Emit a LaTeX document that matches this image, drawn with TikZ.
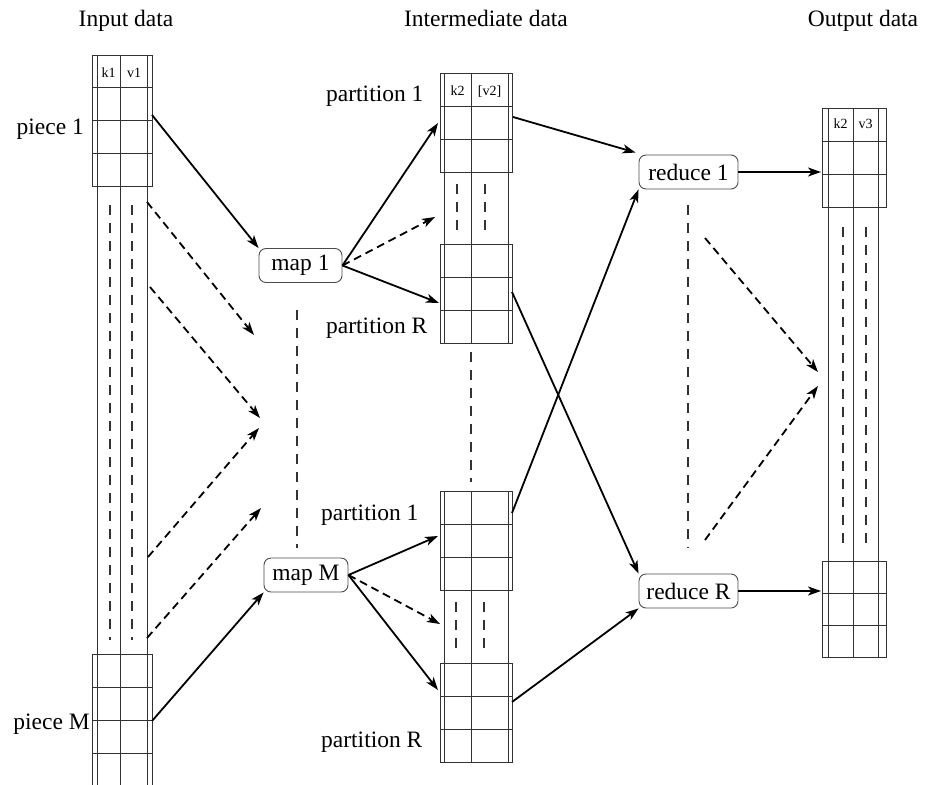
\documentclass[tikz,border=0pt]{standalone}
\usepackage{fontspec}
\setmainfont{Liberation Serif}
\usetikzlibrary{arrows.meta}

% a key/value table block: outer left x, outer right x, top y, row height, rows
\newcommand\kvblock[5]{%
  \draw[grid] (#1,#3) rectangle (#2,#3+#4*#5);
  \foreach \r in {1,...,#5}{\draw[grid] (#1,#3+#4*\r) -- (#2,#3+#4*\r);}
}
% the three long lines of a column: x1, x2, x3, top, bottom
\newcommand\ribbon[5]{%
  \foreach \xx in {#1,#2,#3}{\draw[grid] (\xx,#4) -- (\xx,#5);}
}

\begin{document}
\begin{tikzpicture}[x=1pt,y=-1pt,
  grid/.style={draw=black!80, line width=0.9pt},
  sepdash/.style={draw=black!80, line width=1.1pt, dash pattern=on 10pt off 8pt},
  flow/.style={draw=black, line width=1.8pt, -{Stealth[length=13pt,width=9pt,inset=3.5pt]}},
  flowdash/.style={flow, dash pattern=on 8pt off 5pt},
  proc/.style={draw=black!70, line width=0.9pt, rounded corners=7pt,
    minimum height=34pt, inner sep=0pt, font=\fontsize{23.5}{26}\selectfont},
  lbl/.style={font=\fontsize{23.5}{26}\selectfont, inner sep=0pt},
  cell/.style={font=\fontsize{14}{16}\selectfont, inner sep=0pt, anchor=base}]

\useasboundingbox (0,0) rectangle (925,784);
\clip (0,0) rectangle (925,784);

% column titles
\node[lbl, anchor=base] (tin)  at (126,27) {Input data};
\node[lbl, anchor=base] (tmid) at (486,27) {Intermediate data};
\node[lbl, anchor=base] (tout) at (863,27) {Output data};

% ---------------- input column ----------------
\ribbon{97}{120}{147}{55}{800}
\kvblock{92}{152}{55}{32.9}{4}
\kvblock{92}{152}{654}{33}{5}
\node[cell] (k1) at (108.5,77) {k1};
\node[cell] (v1) at (134,77) {v1};
\draw[sepdash] (110,205) -- (110,640);
\draw[sepdash] (132,205) -- (132,640);
\node[lbl, anchor=base east] (piece1) at (84,134) {piece 1};
\node[lbl, anchor=base east] (pieceM) at (90,729) {piece M};

% ---------------- intermediate columns ----------------
\ribbon{444}{471}{508}{73}{343}
\kvblock{440}{512}{73}{33}{3}
\kvblock{440}{512}{244}{33}{3}
\node[cell] (k2a) at (457.5,95) {k2};
\node[cell] (v2a) at (489.5,95) {[v2]};
\draw[sepdash] (457,184) -- (457,237);
\draw[sepdash] (485,184) -- (485,237);

\ribbon{444}{471}{508}{491}{762}
\kvblock{440}{512}{491}{33}{3}
\kvblock{440}{512}{663}{33}{3}
\draw[sepdash] (456,602) -- (456,655);
\draw[sepdash] (484,602) -- (484,655);

\draw[sepdash] (471,352) -- (471,482);

\node[lbl, anchor=base west] (pa1) at (326,101) {partition 1};
\node[lbl, anchor=base west] (paR) at (326,333) {partition R};
\node[lbl, anchor=base west] (pb1) at (321,520) {partition 1};
\node[lbl, anchor=base west] (pbR) at (321,747) {partition R};

% ---------------- output column ----------------
\ribbon{828}{853}{878}{108}{657}
\kvblock{822}{886}{108}{33}{3}
\kvblock{822}{886}{561}{32}{3}
\node[cell] (k3) at (840.5,128) {k2};
\node[cell] (v3) at (865.5,128) {v3};
\draw[sepdash] (843,227) -- (843,545);
\draw[sepdash] (866,227) -- (866,545);

% ---------------- workers ----------------
\node[proc, minimum width=83pt] (map1) at (300.5,265.5) {map 1};
\node[proc, minimum width=84pt] (mapM) at (306,575) {map M};
\node[proc, minimum width=99pt] (red1) at (688.5,172) {reduce 1};
\node[proc, minimum width=99pt] (redR) at (688.5,591) {reduce R};

\draw[sepdash] (297,310) -- (297,548);
\draw[sepdash] (688,205) -- (688,548);

% connector end points on the tables
\coordinate (in1) at (152,115);
\coordinate (inM) at (152,721);
\coordinate (d1s) at (147,202); \coordinate (d1e) at (254,335);
\coordinate (d2s) at (150,287); \coordinate (d2e) at (260,418);
\coordinate (d3s) at (148,557); \coordinate (d3e) at (259,428);
\coordinate (d4s) at (147,638); \coordinate (d4e) at (261,508);

\coordinate (a1in) at (438,123);
\coordinate (adin) at (435,217);
\coordinate (aRin) at (439,303);
\coordinate (b1in) at (438,536);
\coordinate (bdin) at (440,624);
\coordinate (bRin) at (438,690);

\coordinate (a1out) at (513,117);
\coordinate (aRout) at (512,292);
\coordinate (b1out) at (512,513);
\coordinate (bRout) at (512,702);

\coordinate (o1in) at (821,172);
\coordinate (oRin) at (821,591);
\coordinate (e1s) at (705,238); \coordinate (e1e) at (818,372);
\coordinate (e2s) at (705,540); \coordinate (e2e) at (818,386);

% ---------------- connectors ----------------
\draw[flow] (in1) -- (map1.north west);
\draw[flow] (inM) -- (mapM.south west);
\draw[flowdash] (d1s) -- (d1e);
\draw[flowdash] (d2s) -- (d2e);
\draw[flowdash] (d3s) -- (d3e);
\draw[flowdash] (d4s) -- (d4e);

\draw[flow] (map1.east) -- (a1in);
\draw[flowdash] (map1.east) -- (adin);
\draw[flow] (map1.east) -- (aRin);
\draw[flow] (mapM.east) -- (b1in);
\draw[flowdash] (mapM.east) -- (bdin);
\draw[flow] (mapM.east) -- (bRin);

\draw[flow] (a1out) -- ([xshift=-3pt,yshift=2pt]red1.north west);
\draw[flow] (b1out) -- (red1.south west);
\draw[flow] (aRout) -- (redR.north west);
\draw[flow] (bRout) -- (redR.south west);

\draw[flow] (red1.east) -- (o1in);
\draw[flow] (redR.east) -- (oRin);
\draw[flowdash] (e1s) -- (e1e);
\draw[flowdash] (e2s) -- (e2e);

\end{tikzpicture}
\end{document}
